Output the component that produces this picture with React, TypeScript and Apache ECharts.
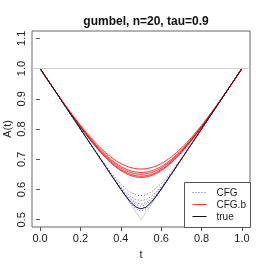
import React, { useEffect, useRef } from "react";
import * as echarts from "echarts";

const FONT = '"Liberation Sans", Arial, Helvetica, sans-serif';

const titleText = "gumbel, n=20, tau=0.9";
const yName = "A(t)";
const xTicks = [0, 0.2, 0.4, 0.6, 0.8, 1.0];
const yTicks = [0.5, 0.6, 0.7, 0.8, 0.9, 1.0, 1.1];

const tGrid = [0, 0.05, 0.1, 0.15, 0.2, 0.25, 0.3, 0.35, 0.4, 0.45, 0.5, 0.55, 0.6, 0.65, 0.7, 0.75, 0.8, 0.85, 0.9, 0.95, 1];
const tFine = [0, 0.05, 0.1, 0.15, 0.2, 0.25, 0.3, 0.35, 0.375, 0.4, 0.425, 0.45, 0.475, 0.5, 0.525, 0.55, 0.575, 0.6, 0.625, 0.65, 0.7, 0.75, 0.8, 0.85, 0.9, 0.95, 1];

// CFG.b estimates (red)
const cfgB1 = [1, 0.9503, 0.9019, 0.8555, 0.8118, 0.7719, 0.7368, 0.7077, 0.6857, 0.6721, 0.6674, 0.6721, 0.6857, 0.7077, 0.7368, 0.7719, 0.8118, 0.8555, 0.9019, 0.9503, 1];
const cfgB2 = [1, 0.9502, 0.9013, 0.854, 0.8091, 0.7675, 0.7306, 0.6996, 0.676, 0.6612, 0.6562, 0.6612, 0.676, 0.6996, 0.7306, 0.7675, 0.8091, 0.854, 0.9013, 0.9502, 1];
const cfgB3 = [1, 0.9501, 0.901, 0.8533, 0.8077, 0.7654, 0.7274, 0.6954, 0.6709, 0.6554, 0.6501, 0.6554, 0.6709, 0.6954, 0.7274, 0.7654, 0.8077, 0.8533, 0.901, 0.9501, 1];
const cfgB4 = [1, 0.9501, 0.9008, 0.8527, 0.8065, 0.7633, 0.7243, 0.6912, 0.6657, 0.6495, 0.6439, 0.6495, 0.6657, 0.6912, 0.7243, 0.7633, 0.8065, 0.8527, 0.9008, 0.9501, 1];
const cfgB5 = [1, 0.9501, 0.9007, 0.8523, 0.8057, 0.762, 0.7224, 0.6885, 0.6623, 0.6456, 0.6399, 0.6456, 0.6623, 0.6885, 0.7224, 0.762, 0.8057, 0.8523, 0.9007, 0.9501, 1];

// CFG estimates (blue, dotted)
const cfg1 = [1, 0.95, 0.9, 0.85, 0.8003, 0.7509, 0.7028, 0.6574, 0.6366, 0.618, 0.6021, 0.5899, 0.5821, 0.5795, 0.5835, 0.5915, 0.6045, 0.6195, 0.6366, 0.6574, 0.7028, 0.7509, 0.8003, 0.85, 0.9, 0.95, 1];
const cfg2 = [1, 0.95, 0.9, 0.85, 0.8, 0.7502, 0.7009, 0.6531, 0.6305, 0.6095, 0.5911, 0.5764, 0.5668, 0.5635, 0.5668, 0.5764, 0.5911, 0.6095, 0.6305, 0.6531, 0.7009, 0.7502, 0.8, 0.85, 0.9, 0.95, 1];
const cfg3 = [1, 0.95, 0.9, 0.85, 0.8, 0.75, 0.7003, 0.6512, 0.6275, 0.6049, 0.5844, 0.5675, 0.5561, 0.552, 0.5561, 0.5675, 0.5844, 0.6049, 0.6275, 0.6512, 0.7003, 0.75, 0.8, 0.85, 0.9, 0.95, 1];
const cfg4 = [1, 0.95, 0.9, 0.85, 0.8, 0.75, 0.7001, 0.6506, 0.6263, 0.6029, 0.5812, 0.5627, 0.5499, 0.5453, 0.5499, 0.5627, 0.5812, 0.6029, 0.6263, 0.6506, 0.7001, 0.75, 0.8, 0.85, 0.9, 0.95, 1];
const cfg5 = [1, 0.95, 0.9, 0.85, 0.8, 0.75, 0.7, 0.65, 0.6251, 0.6003, 0.576, 0.5535, 0.5357, 0.5285, 0.5357, 0.5535, 0.576, 0.6003, 0.6251, 0.65, 0.7, 0.75, 0.8, 0.85, 0.9, 0.95, 1];

// true Pickands function
const trueA = [1, 0.95, 0.9, 0.85, 0.8, 0.75, 0.7002, 0.6502, 0.6254, 0.601, 0.5777, 0.557, 0.5417, 0.5359, 0.5417, 0.557, 0.5777, 0.601, 0.6254, 0.6502, 0.7002, 0.75, 0.8, 0.85, 0.9, 0.95, 1];

// lower bound max(t, 1-t)
const tBound = [0, 0.5, 1];
const lowerBound = [1, 0.5, 1];
const upperBound = 1;

const legendNames = ["CFG", "CFG.b", "true"];

const zip = (ts: number[], vs: number[]) => ts.map((t, i) => [t, vs[i]]);

export default function App() {
  const ref = useRef<HTMLDivElement>(null);
  useEffect(() => {
    if (!ref.current) return;
    const chart = echarts.init(ref.current, undefined, { renderer: "svg" });
    const blueStyle = { color: "rgba(50,50,255,0.8)", width: 1, type: [1, 2] as any };
    const redStyle = { color: "rgba(255,0,0,0.8)", width: 1 };
    const mk = (name: string, data: number[][], lineStyle: any, extra: any = {}) => ({
      type: "line",
      name,
      data,
      showSymbol: false,
      symbol: "none",
      silent: true,
      lineStyle,
      ...extra,
    });
    const series: any[] = [
      mk("bound", zip(tBound, lowerBound), { color: "#cfcfcf", width: 1 }, {
        markLine: {
          silent: true,
          symbol: "none",
          label: { show: false },
          lineStyle: { color: "#cfcfcf", width: 1, type: "solid" },
          data: [{ yAxis: upperBound }],
        },
      }),
      ...[cfg1, cfg2, cfg3, cfg4, cfg5].map((v) => mk("CFG", zip(tFine, v), blueStyle)),
      ...[cfgB1, cfgB2, cfgB3, cfgB4, cfgB5].map((v) => mk("CFG.b", zip(tGrid, v), redStyle, { smooth: 0.3 })),
      mk("true", zip(tFine, trueA), { color: "#111", width: 1 }),
    ];
    chart.setOption({
      animation: false,
      textStyle: { fontFamily: FONT },
      title: {
        text: titleText,
        left: 141,
        top: 10,
        textAlign: "center",
        textStyle: { fontFamily: FONT, fontSize: 12, fontWeight: "bold", color: "#111" },
      },
      grid: {
        left: 32,
        right: 16,
        top: 31,
        bottom: 39,
        outerBoundsMode: "none",
        containLabel: false,
        show: true,
        borderColor: "#666",
        borderWidth: 1,
        backgroundColor: "transparent",
      },
      xAxis: {
        type: "value",
        min: -0.04,
        max: 1.04,
        name: "t",
        nameLocation: "middle",
        nameGap: 21,
        nameTextStyle: { fontFamily: FONT, fontSize: 11, color: "#222" },
        axisLine: { show: false },
        splitLine: { show: false },
        axisTick: { show: true, length: 4, lineStyle: { color: "#555" }, customValues: xTicks },
        axisLabel: { fontSize: 11, color: "#222", margin: 5, customValues: xTicks, formatter: (v: number) => v.toFixed(1) },
      },
      yAxis: {
        type: "value",
        min: 0.476,
        max: 1.124,
        axisLine: { show: false },
        splitLine: { show: false },
        axisTick: { show: true, length: 4, lineStyle: { color: "#555" }, customValues: yTicks },
        axisLabel: { fontSize: 11, color: "#222", margin: 6, rotate: 90, customValues: yTicks, formatter: (v: number) => v.toFixed(1) },
      },
      graphic: [
        {
          type: "text",
          x: 7,
          y: 129,
          rotation: Math.PI / 2,
          style: { text: yName, fontFamily: FONT, fontSize: 11, fill: "#222", align: "center", verticalAlign: "middle" },
        },
        {
          type: "group",
          left: 184,
          top: 182,
          children: [
            { type: "rect", shape: { x: 0, y: 0, width: 66, height: 45 }, style: { fill: "#fff", stroke: "#555", lineWidth: 1 } },
            { type: "line", shape: { x1: 8, y1: 10, x2: 22, y2: 10 }, style: { stroke: "rgba(50,50,255,0.8)", lineWidth: 1, lineDash: [1, 2] } },
            { type: "line", shape: { x1: 8, y1: 22, x2: 22, y2: 22 }, style: { stroke: "rgba(255,0,0,0.8)", lineWidth: 1 } },
            { type: "line", shape: { x1: 8, y1: 34, x2: 22, y2: 34 }, style: { stroke: "#111", lineWidth: 1 } },
            ...legendNames.map((n, i) => ({
              type: "text",
              x: 32,
              y: 10 + 12 * i,
              style: { text: n, fontFamily: FONT, fontSize: 10, fill: "#222", verticalAlign: "middle", align: "left" },
            })),
          ],
        },
      ],
      series,
    });
    return () => chart.dispose();
  }, []);
  return <div ref={ref} style={{ position: "fixed", left: 0, top: 0, width: 266, height: 266 }} />;
}
